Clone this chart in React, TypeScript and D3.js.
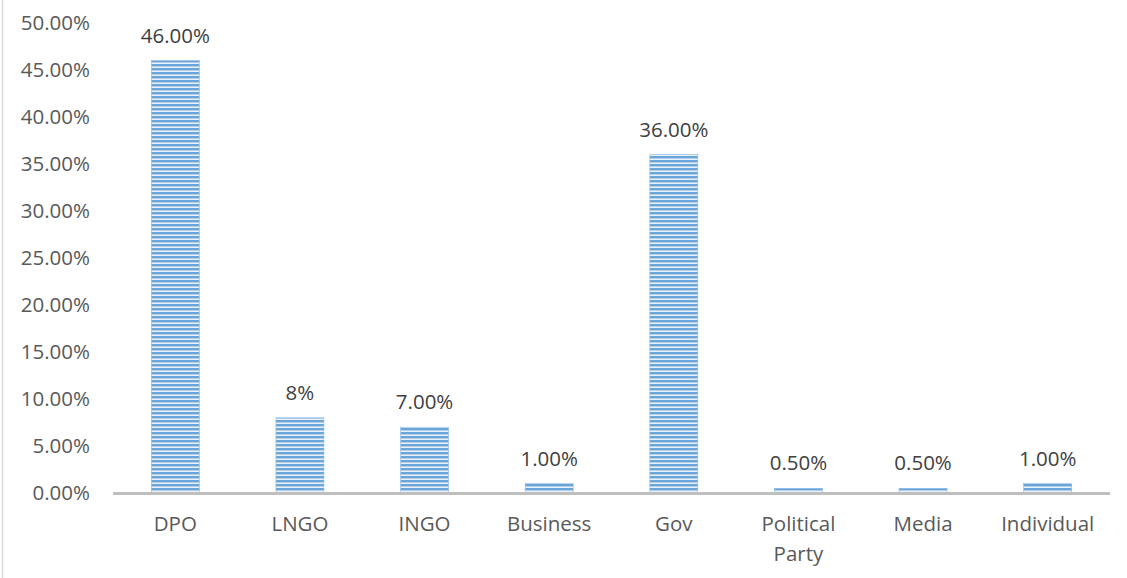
import React from "react";
import * as d3 from "d3";

const categories = ["DPO", "LNGO", "INGO", "Business", "Gov", "Political Party", "Media", "Individual"];
const values = [46, 8, 7, 1, 36, 0.5, 0.5, 1];
const valueLabels = ["46.00%", "8%", "7.00%", "1.00%", "36.00%", "0.50%", "0.50%", "1.00%"];
const yTicks = [0, 5, 10, 15, 20, 25, 30, 35, 40, 45, 50];

const W = 1127;
const H = 578;
const margin = { left: 113, right: 17, top: 23, bottom: 85 };

export default function App() {
  const x = d3
    .scaleBand<string>()
    .domain(categories)
    .range([margin.left, W - margin.right])
    .paddingInner(0.615)
    .paddingOuter(0.3075);
  const y = d3.scaleLinear().domain([0, 50]).range([H - margin.bottom, margin.top]);
  const font = "'Open Sans', 'DejaVu Sans', sans-serif";
  const textColor = "#595959";
  const fs = 20.5;

  const wrap = (s: string) => (s === "Political Party" ? ["Political", "Party"] : [s]);

  return (
    <div style={{ position: "absolute", left: 0, top: 0 }}>
      <svg width={W} height={H} style={{ display: "block", background: "#fff" }}>
        <defs>
          <pattern id="stripes" patternUnits="userSpaceOnUse" width={8} height={4}>
            <rect x={0} y={0} width={8} height={4} fill="#e9f1fa" />
            <rect x={0} y={0} width={8} height={2} fill="#6aa5da" />
            <rect x={0} y={2} width={8} height={1} fill="#b3cfec" />
          </pattern>
        </defs>
        <line x1={2.5} y1={0} x2={2.5} y2={H} stroke="#d9d9d9" strokeWidth={1.5} />
        {yTicks.map((t) => (
          <text
            key={t}
            x={90}
            y={y(t)}
            dy="0.35em"
            textAnchor="end"
            fontFamily={font}
            fontSize={fs}
            fill={textColor}
          >
            {t.toFixed(2) + "%"}
          </text>
        ))}
        {categories.map((c, i) => {
          const bx = x(c)!;
          const bw = x.bandwidth();
          const top = y(values[i]);
          const h = y(0) - top;
          return (
            <g key={c}>
              <rect x={bx} y={top} width={bw} height={h} fill="url(#stripes)" />
              <rect x={bx} y={top} width={bw} height={h} fill="none" stroke="#8dbae3" strokeWidth={0.6} />
              <text
                x={bx + bw / 2}
                y={top - 18}
                textAnchor="middle"
                fontFamily={font}
                fontSize={fs}
                fill="#404040"
              >
                {valueLabels[i]}
              </text>
              {wrap(c).map((line, j) => (
                <text
                  key={j}
                  x={bx + bw / 2}
                  y={y(0) + 38 + j * 30}
                  textAnchor="middle"
                  fontFamily={font}
                  fontSize={fs}
                  fill={textColor}
                >
                  {line}
                </text>
              ))}
            </g>
          );
        })}
        <line
          x1={margin.left}
          x2={W - margin.right}
          y1={y(0) + 0.5}
          y2={y(0) + 0.5}
          stroke="#bfbfbf"
          strokeWidth={3}
        />
      </svg>
    </div>
  );
}
